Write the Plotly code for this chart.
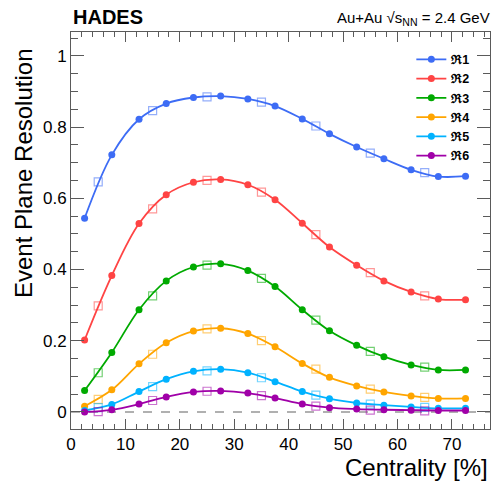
import plotly.graph_objects as go

# Centrality bin centres: 5% bins (filled) and 10% bins (open)
cent_5 = [2.5, 7.5, 12.5, 17.5, 22.5, 27.5, 32.5, 37.5, 42.5, 47.5, 52.5, 57.5, 62.5, 67.5, 72.5]
cent_10 = [5, 15, 25, 35, 45, 55, 65]

# Event plane resolution per harmonic, 5% bins
r1_5 = [0.544, 0.722, 0.822, 0.866, 0.883, 0.887, 0.879, 0.859, 0.823, 0.781, 0.744, 0.711, 0.680, 0.661, 0.662]
r2_5 = [0.202, 0.383, 0.529, 0.610, 0.645, 0.653, 0.638, 0.596, 0.530, 0.463, 0.412, 0.368, 0.337, 0.317, 0.315]
r3_5 = [0.060, 0.167, 0.287, 0.368, 0.407, 0.416, 0.397, 0.352, 0.287, 0.228, 0.187, 0.155, 0.132, 0.118, 0.118]
r4_5 = [0.016, 0.062, 0.135, 0.194, 0.227, 0.235, 0.220, 0.183, 0.136, 0.097, 0.073, 0.056, 0.045, 0.038, 0.038]
r5_5 = [0.004, 0.021, 0.057, 0.092, 0.114, 0.120, 0.110, 0.085, 0.057, 0.037, 0.025, 0.019, 0.014, 0.010, 0.010]
r6_5 = [0.000, 0.006, 0.022, 0.042, 0.056, 0.059, 0.053, 0.039, 0.022, 0.012, 0.008, 0.006, 0.005, 0.004, 0.004]

# Event plane resolution per harmonic, 10% bins
r1_10 = [0.646, 0.846, 0.885, 0.870, 0.803, 0.727, 0.672]
r2_10 = [0.298, 0.570, 0.650, 0.617, 0.498, 0.391, 0.326]
r3_10 = [0.110, 0.326, 0.412, 0.375, 0.258, 0.170, 0.126]
r4_10 = [0.035, 0.162, 0.233, 0.200, 0.120, 0.064, 0.041]
r5_10 = [0.012, 0.071, 0.115, 0.096, 0.047, 0.022, 0.013]
r6_10 = [0.001, 0.032, 0.058, 0.046, 0.016, 0.005, 0.003]

names = ["<b>ℜ1</b>", "<b>ℜ2</b>", "<b>ℜ3</b>", "<b>ℜ4</b>", "<b>ℜ5</b>", "<b>ℜ6</b>"]
colors = [(61, 108, 245), (255, 68, 68), (0, 170, 0), (255, 165, 0), (0, 178, 255), (160, 0, 168)]
fine = [r1_5, r2_5, r3_5, r4_5, r5_5, r6_5]
coarse = [r1_10, r2_10, r3_10, r4_10, r5_10, r6_10]

FONT = "Liberation Sans, Arial, Helvetica, sans-serif"

fig = go.Figure()

for name, c, yf, yc in zip(names, colors, fine, coarse):
    solid = "rgb(%d,%d,%d)" % c
    faint = "rgba(%d,%d,%d,0.55)" % c
    fig.add_trace(go.Scatter(
        x=cent_10, y=yc, mode="markers", showlegend=False,
        marker=dict(symbol="square-open", size=8, color=faint, line=dict(width=1.2, color=faint)),
    ))
    fig.add_trace(go.Scatter(
        x=cent_5, y=yf, mode="lines+markers", name=name,
        line=dict(color=solid, width=1.8, shape="spline", smoothing=1.0),
        marker=dict(symbol="circle", size=7, color=solid),
    ))

fig.add_hline(y=0, line=dict(color="rgb(150,150,150)", width=1.5, dash="dash"), layer="below")

axis_common = dict(
    showline=True, linecolor="rgb(90,90,90)", linewidth=1,
    mirror="allticks", ticks="inside", tickcolor="rgb(90,90,90)",
    showgrid=False, zeroline=False,
    tickfont=dict(family=FONT, size=17, color="black"),
)

fig.update_xaxes(
    range=[0, 77], tick0=0, dtick=10, ticklen=10, tickwidth=1,
    minor=dict(dtick=2, ticklen=5, ticks="inside", tickcolor="rgb(90,90,90)", showgrid=False),
    **axis_common,
)
fig.update_yaxes(
    range=[-0.048, 1.067], tick0=0, dtick=0.2, ticklen=13, tickwidth=1,
    minor=dict(dtick=0.05, ticklen=7, ticks="inside", tickcolor="rgb(90,90,90)", showgrid=False),
    **axis_common,
)

fig.add_annotation(
    text="Centrality [%]", xref="paper", yref="paper", x=1.0, y=-0.098,
    xanchor="right", yanchor="middle", showarrow=False,
    font=dict(family=FONT, size=24, color="black"),
)
fig.add_annotation(
    text="Event Plane Resolution", xref="paper", yref="paper", x=-0.112, y=0.645,
    xanchor="center", yanchor="middle", textangle=-90, showarrow=False,
    font=dict(family=FONT, size=24, color="black"),
)
fig.add_annotation(
    text="<b>HADES</b>", xref="paper", yref="paper", x=0.0, y=1.005,
    xanchor="left", yanchor="bottom", showarrow=False,
    font=dict(family=FONT, size=20, color="black"),
)
fig.add_annotation(
    text="Au+Au √s<sub>NN</sub> = 2.4 GeV", xref="paper", yref="paper", x=1.005, y=1.005,
    xanchor="right", yanchor="bottom", showarrow=False,
    font=dict(family=FONT, size=15, color="black"),
)

fig.update_layout(
    width=497, height=489,
    margin=dict(l=71, r=7, t=32, b=60),
    paper_bgcolor="white", plot_bgcolor="white",
    font=dict(family=FONT, color="black"),
    legend=dict(
        x=0.965, y=0.968, xanchor="right", yanchor="top",
        bgcolor="rgba(0,0,0,0)", borderwidth=0,
        font=dict(family=FONT, size=12.5, color="black"),
        tracegroupgap=0, itemwidth=30,
    ),
)

fig.write_html("out.html")
